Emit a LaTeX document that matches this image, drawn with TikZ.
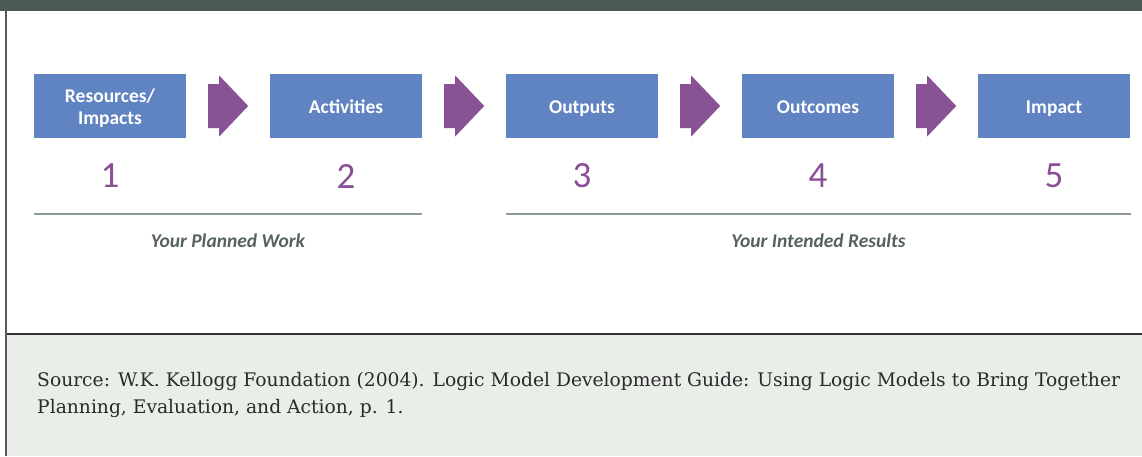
\documentclass[tikz,border=0pt]{standalone}
\usepackage{fontspec}
\setmainfont{DejaVu Serif}
\newfontfamily\calib{Carlito}
\definecolor{topbar}{HTML}{4B5A52}
\definecolor{boxblue}{HTML}{6083C1}
\definecolor{arrowpurple}{HTML}{885295}
\definecolor{numpurple}{HTML}{8A4F96}
\definecolor{rulegray}{HTML}{8E9A95}
\definecolor{labelgray}{HTML}{55635C}
\definecolor{footfill}{HTML}{E9EEE8}
\definecolor{sourcetext}{HTML}{2A2A2A}
\begin{document}
\begin{tikzpicture}[x=1pt,y=-1pt,
  stepbox/.style={fill=boxblue, minimum width=152pt, minimum height=64pt, inner sep=0pt},
  steptext/.style={anchor=base, inner sep=0pt, text=white, font=\calib\bfseries\fontsize{19.5}{20}\selectfont},
  stepnum/.style={text=numpurple, font=\calib\fontsize{37}{40}\selectfont},
  flowarrow/.style={fill=arrowpurple},
  grouprule/.style={draw=rulegray, line width=1.1pt},
  grouplabel/.style={text=labelgray, font=\calib\bfseries\itshape\fontsize{19.5}{22}\selectfont},
  sourceline/.style={anchor=base west, inner sep=0pt, text=sourcetext, font=\fontsize{18.7}{27}\selectfont}
]
\useasboundingbox (0,0) rectangle (1142,456);
% frame
\fill[topbar] (0,0) rectangle (1142,11);
\fill[footfill] (6,334) rectangle (1142,456);
\draw[line width=1.3pt, draw=black!80] (6,334) -- (1142,334);
\draw[line width=1.5pt, draw=black!65] (6,11) -- (6,456);
% boxes
\node[stepbox] (b1) at (110,106) {};
\node[stepbox] (b2) at (346,106) {};
\node[stepbox] (b3) at (582,106) {};
\node[stepbox] (b4) at (818,106) {};
\node[stepbox] (b5) at (1054,106) {};
\node[steptext] (t1a) at (110,102) {Resources/};
\node[steptext] (t1b) at (110,124) {Impacts};
\node[steptext] (t2) at (346,113) {Activities};
\node[steptext] (t3) at (582,113) {Outputs};
\node[steptext] (t4) at (818,113) {Outcomes};
\node[steptext] (t5) at (1054,113) {Impact};
% arrows between boxes
\foreach \a in {b1,b2,b3,b4}{
  \fill[flowarrow] (\a.east) ++(22,-22) -- ++(11,0) -- ++(0,-8.5) -- ++(29,30.5)
    -- ++(-29,30.5) -- ++(0,-8.5) -- ++(-11,0) -- cycle;
}
% numbers
\node[stepnum] (n1) at (110,176) {1};
\node[stepnum] (n2) at (346,176) {2};
\node[stepnum] (n3) at (582,176) {3};
\node[stepnum] (n4) at (818,176) {4};
\node[stepnum] (n5) at (1054,176) {5};
% group rules
\coordinate (r1a) at (34,214);
\coordinate (r1b) at (422,214);
\coordinate (r2a) at (506,214);
\coordinate (r2b) at (1131,214);
\draw[grouprule] (r1a) -- (r1b);
\draw[grouprule] (r2a) -- (r2b);
\node[grouplabel] (g1) at (228,241) {Your Planned Work};
\node[grouplabel] (g2) at (818.5,241) {Your Intended Results};
% source
\node[sourceline] (s1) at (37,386) {Source: W.K. Kellogg Foundation (2004). Logic Model Development Guide: Using Logic Models to Bring Together};
\node[sourceline] (s2) at (37,413) {Planning, Evaluation, and Action, p. 1.};
\end{tikzpicture}
\end{document}
